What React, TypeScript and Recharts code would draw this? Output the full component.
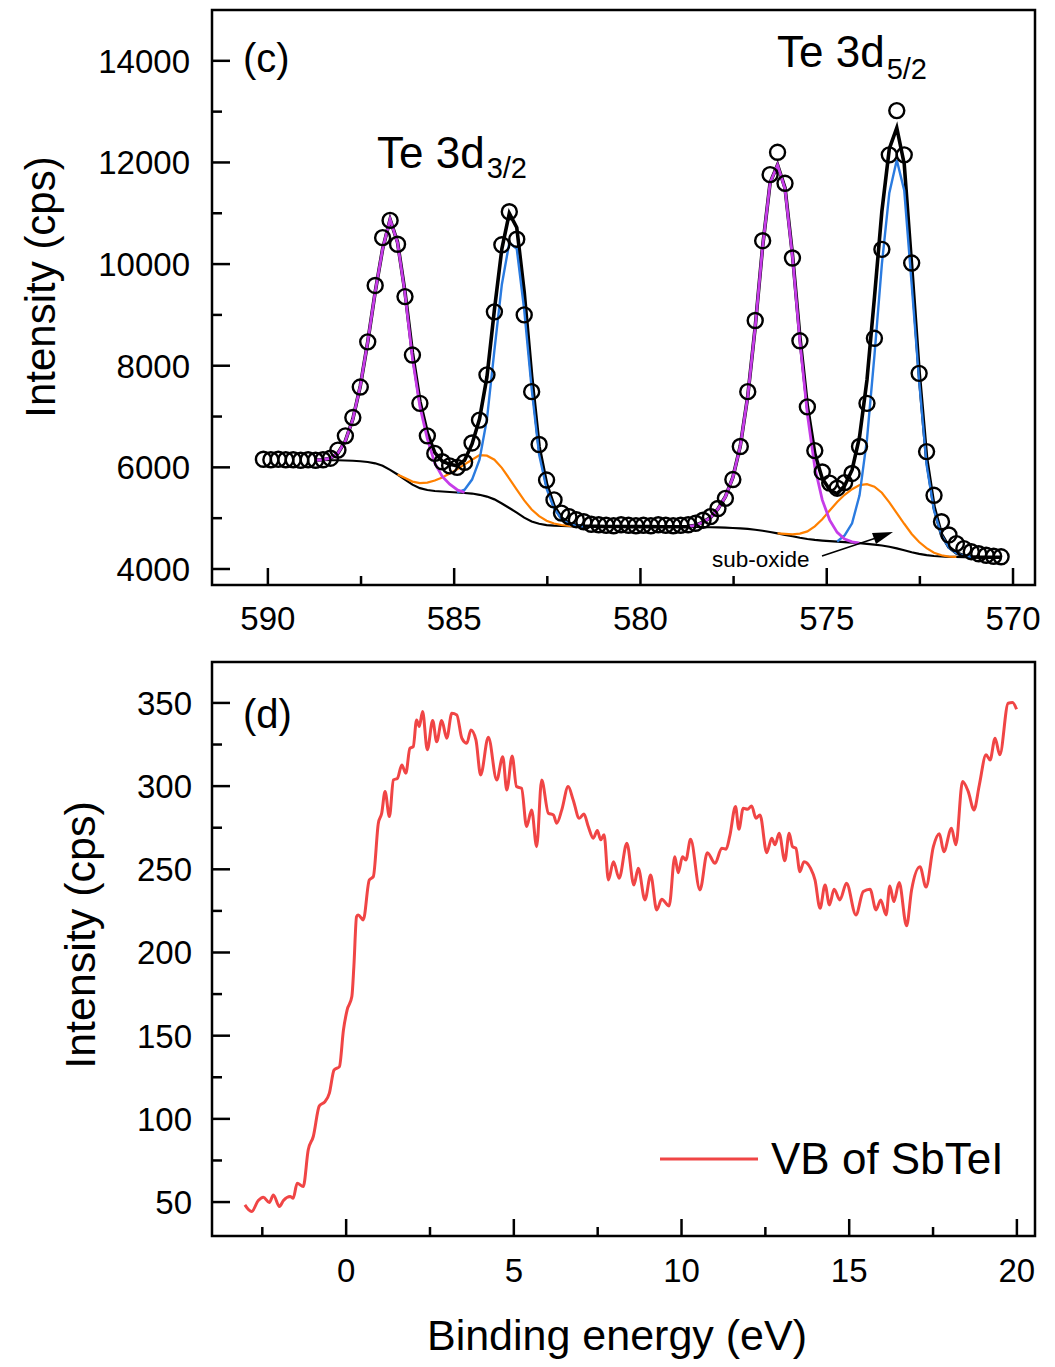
import React from 'react';
import { ComposedChart, LineChart, Line, XAxis, YAxis, ReferenceArea } from 'recharts';

const FONT = '"Liberation Sans", Arial, Helvetica, sans-serif';

// ---- panel (c): Te 3d core level, measured on a 0.2 eV grid from 590.12 eV down ----
const TE_START = 590.12;
const TE_STEP = 0.2;
const teCounts = [
  6160, 6150, 6160, 6150, 6150, 6140, 6150, 6140, 6150, 6180,
  6340, 6620, 6980, 7580, 8470, 9580, 10520, 10860, 10390, 9360,
  8210, 7260, 6620, 6275, 6110, 6030, 6000, 6100, 6480, 6930,
  7820, 9060, 10380, 11030, 10490, 9000, 7490, 6450, 5750, 5360,
  5100, 5030, 4970, 4930, 4880, 4870, 4860, 4850, 4870, 4860,
  4850, 4860, 4850, 4870, 4860, 4850, 4860, 4870, 4900, 4960,
  5030, 5190, 5390, 5760, 6410, 7490, 8890, 10460, 11760, 12200,
  11590, 10120, 8490, 7190, 6330, 5910, 5690, 5590, 5700, 5880,
  6410, 7260, 8540, 10290, 12150, 13020, 12150, 10020, 7850, 6310,
  5450, 4930, 4670, 4500, 4400, 4340, 4300, 4270, 4250, 4240,
];

// fit curves, each listed from its own start energy with the same 0.2 eV step
const FIT_START = 588.72;
const teBackground = [
  6145, 6145, 6140, 6140, 6135, 6130, 6120, 6105, 6080, 6030,
  5950, 5860, 5760, 5660, 5590, 5555, 5535, 5525, 5515, 5505,
  5495, 5485, 5460, 5425, 5370, 5290, 5200, 5110, 5010, 4935,
  4890, 4865, 4852, 4846, 4842, 4840, 4838, 4837, 4836, 4835,
  4834, 4834, 4833, 4833, 4832, 4832, 4831, 4830, 4830, 4829,
  4828, 4826, 4824, 4821, 4818, 4813, 4807, 4800, 4788, 4772,
  4752, 4728, 4700, 4672, 4644, 4615, 4590, 4572, 4560, 4550,
  4540, 4530, 4520, 4508, 4495, 4480, 4462, 4438, 4405, 4368,
  4330, 4297, 4272, 4256, 4246, 4240, 4237, 4235, 4234, 4233,
  4232, 4231, 4230,
];
const teEnvelope = [
  6145, 6150, 6180, 6280, 6520, 6950, 7600, 8470, 9450, 10300,
  10880, 10430, 9450, 8250, 7300, 6680, 6290, 6120, 6060, 6030,
  6140, 6460, 6950, 7780, 9100, 10300, 11000, 10720, 9450, 7790,
  6400, 5670, 5240, 5005, 4895, 4855, 4845, 4840, 4838, 4836,
  4835, 4835, 4834, 4834, 4833, 4833, 4832, 4832, 4831, 4831,
  4834, 4862, 4922, 5012, 5182, 5422, 5802, 6422, 7402, 8762,
  10352, 11602, 11952, 11500, 10190, 8560, 7200, 6270, 5780, 5560,
  5480, 5640, 5950, 6600, 7720, 9340, 11040, 12270, 12680, 11970,
  9960, 7870, 6180, 5220, 4680, 4430, 4315, 4262, 4242, 4234,
  4232, 4231, 4230,
];

const MAGENTA1_START = 588.72;
const magentaPeak1 = [
  6145, 6150, 6180, 6280, 6520, 6950, 7600, 8470, 9450, 10300,
  10880, 10420, 9420, 8150, 7200, 6560, 6080, 5820, 5670, 5560, 5505,
];
const MAGENTA2_START = 578.72;
const magentaPeak2 = [
  4832, 4860, 4920, 5010, 5180, 5420, 5800, 6420, 7400, 8760,
  10350, 11600, 11950, 11480, 10150, 8480, 7050, 6000, 5360, 4960,
  4720, 4590, 4535, 4510,
];
const BLUE1_START = 584.92;
const bluePeak1 = [
  5505, 5560, 5760, 6150, 6950, 8300, 9600, 10420, 10300, 9100,
  7550, 6250, 5580, 5190, 4985, 4885, 4850, 4840,
];
const BLUE2_START = 574.72;
const bluePeak2 = [
  4540, 4660, 4900, 5450, 6550, 8200, 10000, 11400, 12050, 11450,
  9600, 7700, 6050, 5150, 4660, 4420, 4310, 4260, 4240,
];
const ORANGE1_START = 586.52;
const subOxide1 = [
  5860, 5790, 5720, 5690, 5700, 5740, 5800, 5880, 5960, 6060,
  6150, 6240, 6230, 6150, 5990, 5780, 5560, 5350, 5170, 5040,
  4950, 4895, 4865, 4850, 4840,
];
const ORANGE2_START = 576.32;
const subOxide2 = [
  4700, 4690, 4680, 4695, 4740, 4840, 4980, 5150, 5320, 5460,
  5570, 5650, 5670, 5620, 5500, 5310, 5100, 4890, 4690, 4530,
  4410, 4320, 4270, 4245, 4238,
];

const teXTicks = [570, 572.5, 575, 577.5, 580, 582.5, 585, 587.5, 590];
const teXMajor = [570, 575, 580, 585, 590];
const teYTicks = [4000, 5000, 6000, 7000, 8000, 9000, 10000, 11000, 12000, 13000, 14000];
const teYMajor = [4000, 6000, 8000, 10000, 12000, 14000];

// ---- panel (d): valence band ----
const vbEnergy = [
  -3.02, -2.82, -2.62, -2.47, -2.29, -2.17, -1.99, -1.87, -1.67, -1.58,
  -1.46, -1.28, -1.13, -0.98, -0.8, -0.63, -0.5, -0.36, -0.2, -0.08,
  0.03, 0.17, 0.23, 0.31, 0.36, 0.51, 0.69, 0.81, 0.96, 1.06,
  1.16, 1.29, 1.41, 1.53, 1.66, 1.78, 1.9, 2.0, 2.1, 2.18,
  2.28, 2.42, 2.58, 2.7, 2.85, 3.0, 3.15, 3.3, 3.45, 3.6,
  3.72, 3.87, 4.01, 4.24, 4.49, 4.67, 4.79, 4.95, 5.08, 5.23,
  5.38, 5.53, 5.68, 5.83, 6.03, 6.18, 6.28, 6.43, 6.62, 6.77,
  6.95, 7.09, 7.22, 7.37, 7.49, 7.59, 7.69, 7.82, 7.97, 8.14,
  8.37, 8.58, 8.71, 8.91, 9.08, 9.26, 9.41, 9.63, 9.8, 9.9,
  10.03, 10.13, 10.27, 10.55, 10.77, 11.0, 11.2, 11.33, 11.44, 11.61,
  11.71, 11.84, 11.97, 12.09, 12.22, 12.34, 12.54, 12.69, 12.79, 12.91,
  13.08, 13.21, 13.31, 13.41, 13.53, 13.65, 13.85, 13.98, 14.13, 14.28,
  14.41, 14.55, 14.72, 14.92, 15.2, 15.42, 15.62, 15.8, 15.94, 16.1,
  16.21, 16.33, 16.49, 16.71, 16.86, 17.11, 17.29, 17.51, 17.69, 17.82,
  18.05, 18.18, 18.38, 18.55, 18.72, 18.88, 19.08, 19.2, 19.35, 19.49,
  19.74, 19.87, 19.99,
];
const vbIntensity = [
  48.3, 44.3, 50.9, 52.9, 49.7, 54.3, 47.3, 50.9, 53.3, 52.3,
  61.3, 59.3, 81.4, 89.4, 107.8, 110.4, 115.5, 129.4, 131.4, 153.5,
  165.5, 173.5, 191.5, 221.6, 222.6, 219.6, 243.6, 245.6, 277.7, 283.7,
  296.7, 281.7, 303.7, 304.7, 312.7, 307.7, 322.7, 323.7, 339.8, 335.8,
  344.8, 321.8, 339.4, 326.7, 339.4, 328.8, 343.8, 342.8, 328.8, 325.8,
  333.8, 327.8, 306.7, 329.4, 303.7, 317.7, 297.7, 318.1, 299.7, 298.7,
  275.7, 285.7, 263.6, 303.7, 283.7, 282.7, 277.7, 285.7, 299.7, 291.7,
  280.7, 283.3, 275.7, 268.7, 273.3, 267.7, 270.7, 243.6, 254.6, 244.6,
  265.7, 240.6, 250.6, 231.6, 246.6, 225.6, 232.0, 228.0, 257.6, 248.0,
  257.6, 255.6, 268.1, 237.6, 260.0, 253.6, 262.7, 262.1, 270.1, 287.7,
  274.1, 286.7, 286.1, 288.1, 280.7, 282.7, 260.0, 268.7, 264.7, 271.7,
  255.2, 271.7, 263.6, 262.7, 248.6, 254.6, 250.6, 243.6, 226.6, 240.6,
  228.6, 238.0, 231.6, 241.6, 222.6, 236.6, 238.0, 225.6, 231.6, 222.6,
  240.0, 230.6, 242.0, 216.0, 237.6, 251.6, 239.3, 263.6, 271.3, 260.6,
  274.7, 264.7, 302.7, 296.7, 285.7, 300.7, 318.8, 315.7, 328.8, 318.8,
  349.8, 350.2, 346.2,
];

const vbXTicks = [-2.5, 0, 2.5, 5, 7.5, 10, 12.5, 15, 17.5, 20];
const vbXMajor = [0, 5, 10, 15, 20];
const vbYTicks = [50, 75, 100, 125, 150, 175, 200, 225, 250, 275, 300, 325, 350];
const vbYMajor = [50, 100, 150, 200, 250, 300, 350];

const pick = (start: number, values: number[], e: number) => {
  const k = Math.round((start - e) / TE_STEP);
  return k >= 0 && k < values.length ? values[k] : null;
};

const teRows = teCounts.map((c, i) => {
  const e = Math.round((TE_START - i * TE_STEP) * 100) / 100;
  return {
    e,
    counts: c,
    bg: pick(FIT_START, teBackground, e),
    env: pick(FIT_START, teEnvelope, e),
    mag: pick(MAGENTA1_START, magentaPeak1, e) ?? pick(MAGENTA2_START, magentaPeak2, e),
    blue: pick(BLUE1_START, bluePeak1, e) ?? pick(BLUE2_START, bluePeak2, e),
    orange: pick(ORANGE1_START, subOxide1, e) ?? pick(ORANGE2_START, subOxide2, e),
  };
});

const vbRows = vbEnergy.map((e, i) => ({ e, v: vbIntensity[i] }));

const xTick = (majors: number[], dy: number) => (props: any) => {
  const { x, y, payload } = props;
  const isMajor = majors.includes(payload.value);
  return (
    <g>
      <line x1={x} x2={x} y1={y} y2={y - (isMajor ? 17 : 9)} stroke="#000" strokeWidth={2.5} />
      {isMajor && (
        <text x={x} y={y + dy} textAnchor="middle" fontSize={33} fontFamily={FONT} fill="#000">
          {payload.value}
        </text>
      )}
    </g>
  );
};

const yTick = (majors: number[], gap: number) => (props: any) => {
  const { x, y, payload } = props;
  const isMajor = majors.includes(payload.value);
  return (
    <g>
      <line x1={x} x2={x + (isMajor ? 18 : 10)} y1={y} y2={y} stroke="#000" strokeWidth={2.5} />
      {isMajor && (
        <text x={x - gap} y={y + 12} textAnchor="end" fontSize={33} fontFamily={FONT} fill="#000">
          {payload.value}
        </text>
      )}
    </g>
  );
};

export default function App() {
  return (
    <div style={{ position: 'absolute', left: 0, top: 0, width: 1055, height: 1367, background: '#fff' }}>
      <div style={{ position: 'absolute', left: 0, top: 0 }}>
        <ComposedChart width={1055} height={650} data={teRows} margin={{ top: 10, right: 20, left: 0, bottom: 0 }}>
          <XAxis
            dataKey="e"
            type="number"
            domain={[569.41, 591.5]}
            reversed
            allowDataOverflow
            ticks={teXTicks}
            interval={0}
            height={65}
            tick={xTick(teXMajor, 45)}
            tickLine={false}
            axisLine={false}
            tickSize={0}
            tickMargin={0}
          />
          <YAxis
            type="number"
            domain={[3685, 15000]}
            allowDataOverflow
            ticks={teYTicks}
            interval={0}
            width={212}
            tick={yTick(teYMajor, 22)}
            tickLine={false}
            axisLine={false}
            tickSize={0}
            tickMargin={0}
          />
          <Line
            dataKey="counts"
            stroke="none"
            isAnimationActive={false}
            activeDot={false}
            dot={{ r: 7.5, stroke: '#000', strokeWidth: 2.4, fill: 'none' }}
          />
          <Line dataKey="env" type="linear" stroke="#000" strokeWidth={3.6} dot={false} isAnimationActive={false} connectNulls={false} />
          <Line dataKey="bg" type="linear" stroke="#000" strokeWidth={2.2} dot={false} isAnimationActive={false} connectNulls={false} />
          <Line dataKey="orange" type="linear" stroke="#ff8000" strokeWidth={2.2} dot={false} isAnimationActive={false} connectNulls={false} />
          <Line dataKey="blue" type="linear" stroke="#2a7be0" strokeWidth={2.4} dot={false} isAnimationActive={false} connectNulls={false} />
          <Line dataKey="mag" type="linear" stroke="#c63ce8" strokeWidth={2.8} dot={false} isAnimationActive={false} connectNulls={false} />
          <ReferenceArea x1={569.41} x2={591.5} y1={3685} y2={15000} fill="none" stroke="#000" strokeWidth={2.5} ifOverflow="visible" />
        </ComposedChart>
      </div>

      <div style={{ position: 'absolute', left: 0, top: 650 }}>
        <LineChart width={1055} height={650} data={vbRows} margin={{ top: 12, right: 20, left: 0, bottom: 0 }}>
          <XAxis
            dataKey="e"
            type="number"
            domain={[-4, 20.54]}
            allowDataOverflow
            ticks={vbXTicks}
            interval={0}
            height={64}
            tick={xTick(vbXMajor, 46)}
            tickLine={false}
            axisLine={false}
            tickSize={0}
            tickMargin={0}
          />
          <YAxis
            type="number"
            domain={[29.6, 374.6]}
            allowDataOverflow
            ticks={vbYTicks}
            interval={0}
            width={212}
            tick={yTick(vbYMajor, 20)}
            tickLine={false}
            axisLine={false}
            tickSize={0}
            tickMargin={0}
          />
          <Line dataKey="v" type="monotone" stroke="#f04545" strokeWidth={3} dot={false} isAnimationActive={false} />
          <ReferenceArea x1={-4} x2={20.54} y1={29.6} y2={374.6} fill="none" stroke="#000" strokeWidth={2.5} ifOverflow="visible" />
        </LineChart>
      </div>

      <svg width={1055} height={1367} style={{ position: 'absolute', left: 0, top: 0, pointerEvents: 'none' }} fontFamily={FONT}>
        <text x={243} y={72} fontSize={40}>(c)</text>
        <text x={377} y={168} fontSize={44}>
          Te 3d<tspan fontSize={29} dx={2} dy={10}>3/2</tspan>
        </text>
        <text x={777} y={67} fontSize={44}>
          Te 3d<tspan fontSize={29} dx={2} dy={12}>5/2</tspan>
        </text>
        <text x={712} y={567} fontSize={22.5}>sub-oxide</text>
        <line x1={822} y1={556} x2={876} y2={538} stroke="#000" strokeWidth={1.5} />
        <polygon points="893,532 872,533 876,544" fill="#000" />
        <text x={40} y={287} fontSize={42} textAnchor="middle" dominantBaseline="central" transform="rotate(-90 40 287)">
          Intensity (cps)
        </text>

        <text x={243} y={728} fontSize={40}>(d)</text>
        <text x={80} y={935} fontSize={43} textAnchor="middle" dominantBaseline="central" transform="rotate(-90 80 935)">
          Intensity (cps)
        </text>
        <text x={617} y={1350} fontSize={43} textAnchor="middle">Binding energy (eV)</text>
        <line x1={660} y1={1159} x2={758} y2={1159} stroke="#f04545" strokeWidth={3} />
        <text x={771} y={1174} fontSize={44}>VB of SbTeI</text>
      </svg>
    </div>
  );
}
